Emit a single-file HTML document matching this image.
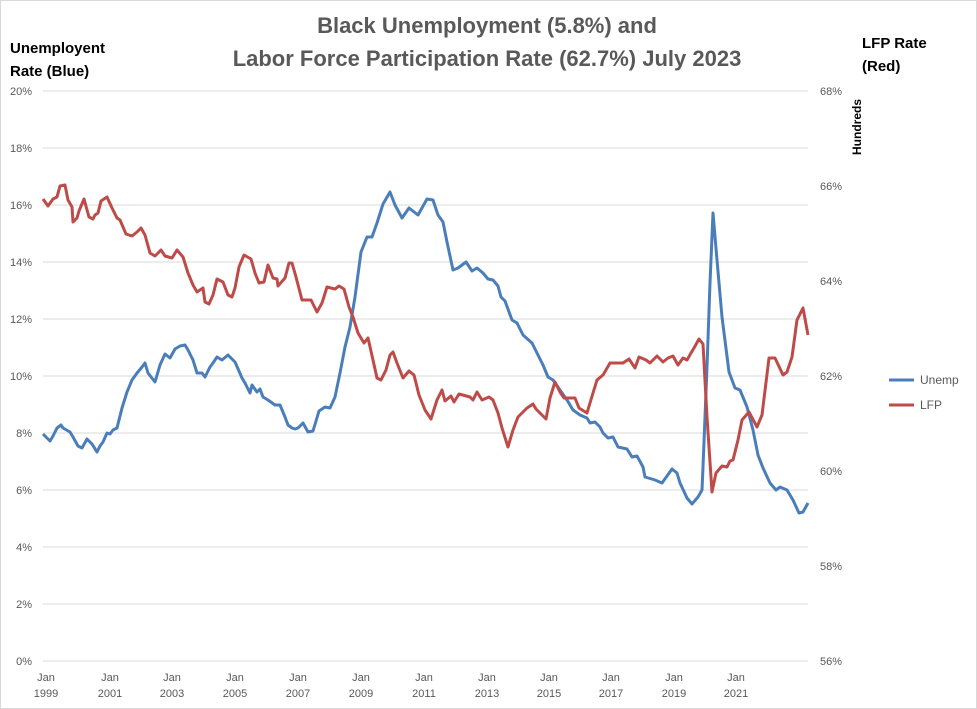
<!DOCTYPE html>
<html><head><meta charset="utf-8"><style>
body{margin:0;background:#fff;}
svg{display:block;font-family:"Liberation Sans",sans-serif;}
</style></head><body>
<svg width="977" height="709" viewBox="0 0 977 709">
<rect x="0.5" y="0.5" width="976" height="708" fill="#fff" stroke="#d9d9d9"/>
<g stroke="#d9d9d9" stroke-width="1">
<line x1="43" x2="808" y1="91" y2="91"/><line x1="43" x2="808" y1="148" y2="148"/><line x1="43" x2="808" y1="205" y2="205"/><line x1="43" x2="808" y1="262" y2="262"/><line x1="43" x2="808" y1="319" y2="319"/><line x1="43" x2="808" y1="376" y2="376"/><line x1="43" x2="808" y1="433" y2="433"/><line x1="43" x2="808" y1="490" y2="490"/><line x1="43" x2="808" y1="547" y2="547"/><line x1="43" x2="808" y1="604" y2="604"/><line x1="43" x2="808" y1="661" y2="661"/>
</g>
<g font-size="11" fill="#595959" text-anchor="end">
<text x="32" y="95">20%</text><text x="32" y="152">18%</text><text x="32" y="209">16%</text><text x="32" y="266">14%</text><text x="32" y="323">12%</text><text x="32" y="380">10%</text><text x="32" y="437">8%</text><text x="32" y="494">6%</text><text x="32" y="551">4%</text><text x="32" y="608">2%</text><text x="32" y="665">0%</text>
</g>
<g font-size="11" fill="#595959">
<text x="820" y="95">68%</text><text x="820" y="190">66%</text><text x="820" y="285">64%</text><text x="820" y="380">62%</text><text x="820" y="475">60%</text><text x="820" y="570">58%</text><text x="820" y="665">56%</text>
</g>
<g font-size="11" fill="#595959" text-anchor="middle">
<text x="46" y="681">Jan</text><text x="46" y="697">1999</text>
<text x="110" y="681">Jan</text><text x="110" y="697">2001</text>
<text x="172" y="681">Jan</text><text x="172" y="697">2003</text>
<text x="235" y="681">Jan</text><text x="235" y="697">2005</text>
<text x="298" y="681">Jan</text><text x="298" y="697">2007</text>
<text x="361" y="681">Jan</text><text x="361" y="697">2009</text>
<text x="424" y="681">Jan</text><text x="424" y="697">2011</text>
<text x="487" y="681">Jan</text><text x="487" y="697">2013</text>
<text x="549" y="681">Jan</text><text x="549" y="697">2015</text>
<text x="611" y="681">Jan</text><text x="611" y="697">2017</text>
<text x="674" y="681">Jan</text><text x="674" y="697">2019</text>
<text x="736" y="681">Jan</text><text x="736" y="697">2021</text>
</g>
<g font-size="22" font-weight="bold" fill="#595959" text-anchor="middle">
<text x="487" y="33">Black Unemployment (5.8%) and</text>
<text x="487" y="66">Labor Force Participation Rate (62.7%) July 2023</text>
</g>
<g font-size="15" font-weight="bold" fill="#000">
<text x="10" y="53">Unemployent</text><text x="10" y="76">Rate (Blue)</text>
<text x="862" y="48">LFP Rate</text><text x="862" y="71">(Red)</text>
</g>
<text transform="translate(861,155) rotate(-90)" font-size="12" font-weight="bold" fill="#000">Hundreds</text>
<polyline fill="none" stroke="#4a7ebb" stroke-width="3" stroke-linejoin="round" points="43,434 50,441 53,436 57,428 61,425 63,428 70,432 73,437 78,446 82,448 87,439 92,444 97,452 100,446 103,442 107,433 110,434 113,430 117,428 122,408 127,392 132,380 137,373 142,367 145,363 148,373 155,382 160,365 165,354 170,358 175,349 180,346 185,345 188,350 193,360 197,373 202,373 205,377 210,367 213,363 217,357 222,360 228,355 235,362 242,378 245,383 250,393 252,385 257,392 260,389 263,397 268,400 275,405 280,405 285,417 288,425 292,428 295,429 298,428 303,423 308,432 313,431 319,411 325,407 330,408 335,397 340,373 345,347 350,327 355,297 361,252 367,237 372,237 377,223 383,204 390,192 395,205 402,218 409,208 418,215 427,199 433,200 438,215 443,222 447,242 453,270 458,268 466,262 472,271 477,268 483,273 488,279 493,280 498,286 501,297 505,301 512,320 517,323 523,335 532,343 537,353 543,365 548,377 553,380 560,390 567,400 573,410 580,415 587,418 590,423 595,422 600,427 603,433 608,438 613,437 618,447 627,449 632,457 637,456 643,467 645,477 655,480 662,483 672,469 677,473 680,483 687,498 692,504 698,497 702,490 703,467 707,367 710,283 713,213 717,260 722,317 729,372 735,388 740,390 747,407 753,430 758,455 763,468 770,483 776,490 780,487 787,490 793,500 799,513 803,512 808,503"/>
<polyline fill="none" stroke="#be4b48" stroke-width="3" stroke-linejoin="round" points="43,199 48,206 53,199 57,197 60,186 65,185 68,200 72,207 73,222 77,218 79,211 84,199 89,217 93,219 95,215 98,213 101,201 107,197 112,208 117,218 120,220 126,234 132,236 137,232 141,228 145,235 150,253 155,256 161,250 165,256 172,258 177,250 183,257 188,273 193,285 197,292 203,288 205,302 209,304 213,295 217,279 223,282 228,295 232,297 235,288 239,267 244,255 251,259 255,273 259,283 264,282 268,265 273,278 277,279 278,286 285,278 289,263 292,263 296,277 302,300 311,300 317,312 322,303 327,287 335,289 339,286 344,289 349,307 353,317 358,333 364,343 368,338 373,360 377,378 381,380 386,370 390,355 393,352 397,363 403,378 409,371 414,375 419,395 425,410 431,419 437,400 442,390 445,401 451,396 454,402 459,394 470,397 473,400 477,392 482,400 489,397 493,400 498,413 502,428 508,447 513,430 518,417 527,408 533,404 536,409 541,414 546,419 550,398 555,382 560,392 564,398 575,398 579,408 587,413 593,393 597,380 603,375 610,363 617,363 623,363 629,359 635,368 639,357 646,360 650,363 657,356 663,362 668,358 673,356 678,365 683,358 687,360 691,353 694,348 699,339 703,344 707,417 712,492 716,473 722,466 727,467 730,461 733,460 738,440 742,420 749,412 757,427 762,415 769,358 775,358 783,375 787,372 792,357 797,320 803,308 808,335"/>
<line x1="889" x2="914" y1="380" y2="380" stroke="#4a7ebb" stroke-width="3"/>
<line x1="889" x2="914" y1="405" y2="405" stroke="#be4b48" stroke-width="3"/>
<g font-size="12" fill="#595959"><text x="920" y="384">Unemp</text><text x="920" y="409">LFP</text></g>
</svg>
</body></html>
